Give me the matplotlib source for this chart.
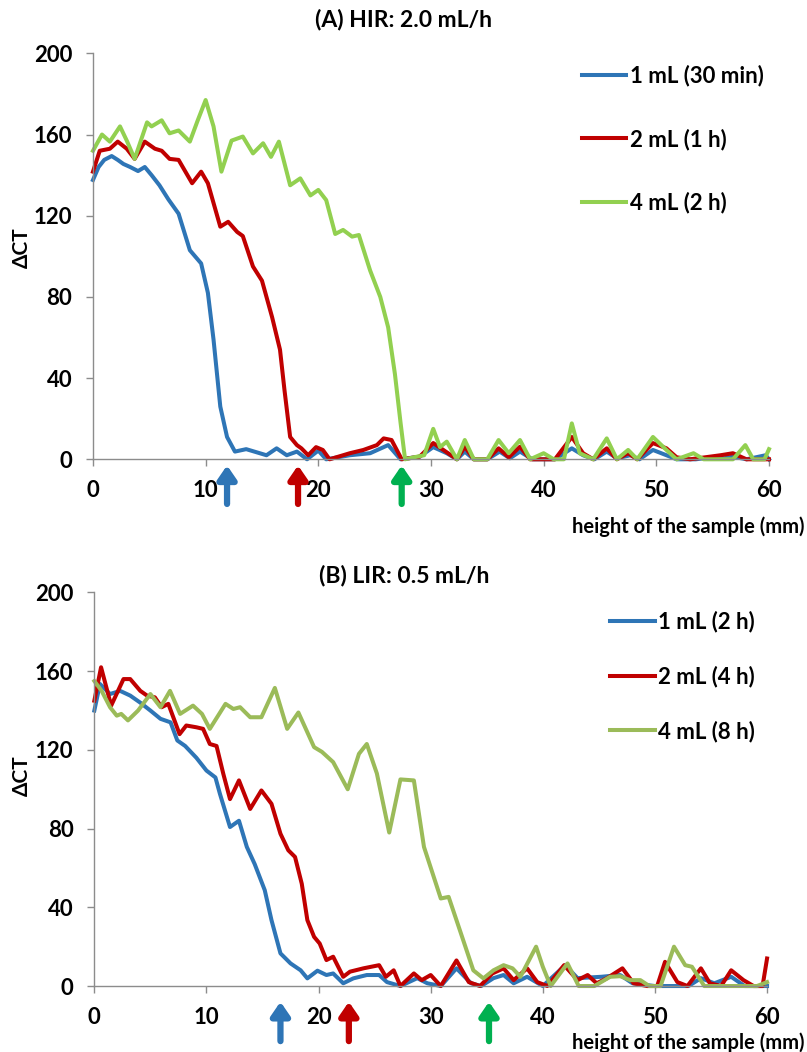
import numpy as np
from matplotlib import pyplot as plt, rcParams

rcParams['font.family'] = ['Lato', 'DejaVu Sans']
rcParams['font.weight'] = 'bold'

# (A) HIR: 2.0 mL/h
a_x_1ml = [0, 0.5, 1.0, 1.66, 2.2, 2.7, 3.3, 4.0, 4.6, 5.2, 5.9, 6.7, 7.6, 8.6, 9.6, 10.2, 10.7, 11.3, 11.9, 12.6,
           13.6, 14.8, 15.4, 16.3, 17.2, 18.1, 19.0, 20.0, 20.7, 22.8, 24.6, 26.2, 27.3, 29.0, 30.2, 31.4, 32.3, 33.0,
           33.8, 35.0, 36.1, 37.0, 37.9, 39.0, 41.0, 42.5, 43.5, 44.5, 45.6, 46.5, 47.7, 48.5, 49.7, 50.9, 51.8, 53.5,
           55.4, 56.0, 56.8, 58.0, 59.7, 60]
a_y_1ml = [137.6, 144, 147.5, 149.4, 147.5, 145.5, 144, 142, 144, 140, 135, 128, 121, 103, 96.5, 82, 59, 26, 11, 3.8,
           5, 3, 2, 5.4, 2, 3.8, 0, 4.3, 0, 2, 3, 7, 0, 1.3, 6, 3, 0, 3.8,
           0, 0, 3.8, 0.5, 3.8, 0, 0, 5.4, 2, 0, 3.8, 0.5, 2, 0, 4.6, 2, 0, 0,
           1.3, 0.5, 1.3, 0, 2, 0]

a_x_2ml = [0, 0.6, 1.5, 2.2, 3.0, 3.7, 4.6, 5.5, 6.1, 6.8, 7.6, 8.8, 9.6, 10.2, 11.3, 12.0, 12.8, 13.3, 14.2, 15.0,
           15.9, 16.6, 17.0, 17.5, 18.1, 18.5, 19.1, 19.8, 20.4, 21.0, 22.2, 22.8, 24.0, 25.2, 25.8, 26.5, 27.4, 29.0,
           30.2, 31.1, 32.3, 33.0, 33.8, 35.0, 36.0, 36.9, 37.9, 38.8, 41.0, 42.5, 43.5, 44.4, 45.6, 46.5, 47.5, 48.3,
           49.7, 50.9, 51.8, 53.0, 55.7, 56.8, 58.0, 60]
a_y_2ml = [141.7, 152, 153, 156.5, 153, 148, 156.5, 153, 152, 148, 147.5, 136, 141.7, 136, 114.6, 117, 112, 110, 95, 88,
           70, 54, 34, 11, 7, 5.4, 2, 6, 4.6, 0, 2, 3, 4.6, 7, 10.3, 9.5, 0, 1.3,
           8, 4.6, 0, 6.2, 0, 0, 5.4, 1, 6.2, 0, 0, 11, 3, 0, 5.4, 0, 3, 0,
           8, 5.4, 1, 0, 2, 3, 0, 0]

a_x_4ml = [0, 0.8, 1.5, 2.4, 3.0, 3.7, 4.8, 5.2, 6.1, 6.8, 7.6, 8.6, 9.3, 10.0, 10.7, 11.4, 12.3, 13.3, 14.2, 15.1,
           15.8, 16.5, 17.5, 18.4, 19.3, 20.0, 20.7, 21.5, 22.2, 23.0, 23.6, 24.6, 25.5, 26.2, 26.8, 27.3, 27.7, 28.5,
           29.4, 30.2, 30.8, 31.4, 32.3, 33.0, 33.8, 35.0, 36.0, 36.9, 37.9, 38.8, 40.0, 40.9, 41.8, 42.5, 43.2, 44.4,
           45.6, 46.5, 47.5, 48.3, 49.7, 50.9, 51.8, 53.3, 54.2, 56.8, 57.9, 58.6, 59.6, 60]
a_y_4ml = [152, 160, 156.5, 164, 157, 148, 166, 164, 167, 160.6, 162, 156.5, 167, 177, 164, 141.7, 157, 159, 150.7, 155.7,
           149, 156.5, 135, 138.4, 130, 132.7, 127.7, 111, 113, 109.7, 110.5, 93, 80, 65, 42, 18, 0, 1,
           2, 15, 6, 8.7, 0, 9.5, 0, 0, 9.5, 3, 9.5, 0, 3, 0, 0, 17.7, 3, 0,
           10.3, 0, 4.6, 0, 11, 4.6, 0, 3, 0, 0, 7, 0, 0, 5]

# (B) LIR: 0.5 mL/h
b_x_1ml = [0, 0.5, 1.4, 2.3, 3.2, 4.1, 5.0, 5.9, 6.8, 7.4, 8.1, 9.1, 10.0, 10.8, 11.2, 12.1, 12.9, 13.6, 14.3, 15.2,
           15.8, 16.6, 17.5, 18.4, 19.0, 19.9, 20.7, 21.3, 22.2, 23.1, 24.3, 25.4, 26.1, 27.3, 28.8, 29.7, 30.9, 32.3,
           33.6, 34.5, 35.6, 36.5, 37.4, 38.6, 40.0, 42.0, 43.1, 45.2, 46.9, 48.0, 50.0, 53.0, 54.1, 55.3, 56.8, 58.0,
           60]
b_y_1ml = [140, 153.5, 148.4, 150, 147.6, 144, 140, 135.8, 134, 124.8, 122, 116, 109.5, 106, 97.7, 80.8, 84, 70.7, 62, 48.7,
           33.5, 16.6, 11.5, 8, 3.9, 7.8, 5.6, 6.4, 1.4, 3.9, 5.6, 5.6, 2, 0, 4, 1.4, 0, 9,
           1.4, 0, 4, 5.6, 1.4, 4.7, 0, 10.6, 4, 4.7, 5.6, 1.4, 0, 0, 4, 1.4, 4.7, 0,
           0]

b_x_2ml = [0, 0.6, 1.5, 2.6, 3.2, 4.1, 4.7, 5.4, 6.0, 6.6, 7.6, 8.2, 9.1, 9.7, 10.3, 10.9, 11.5, 12.1, 12.9, 13.9,
           14.9, 15.8, 16.6, 17.3, 17.9, 18.5, 19.0, 19.6, 20.1, 20.7, 21.3, 22.2, 22.8, 24.0, 25.4, 26.0, 26.7, 27.3,
           28.5, 29.2, 30.0, 30.9, 32.3, 33.4, 34.4, 35.5, 36.5, 37.4, 38.6, 39.5, 40.4, 41.9, 43.1, 44.0, 44.8, 45.7,
           47.1, 48.1, 49.3, 50.2, 50.9, 52.0, 52.9, 54.1, 54.9, 55.9, 56.8, 57.9, 58.8, 59.6, 60]
b_y_2ml = [145, 162, 142.5, 156, 156, 150, 147.6, 146.7, 141.7, 143.4, 128, 132.4, 131.5, 130.7, 123, 122, 107.9, 95, 104.5, 90,
           99.4, 92.6, 77.4, 69, 65.6, 52, 33.5, 25, 21.6, 13.2, 14.9, 4.7, 7.3, 9, 10.6, 4.7, 8, 0,
           6.4, 3, 5.6, 0, 13, 2, 0, 6.4, 9, 3, 9, 2, 0, 10.6, 3, 5.6, 1.4, 3.9,
           9, 1.4, 0, 0, 12.3, 2, 0, 9, 1.4, 0, 8, 3, 0, 0, 14]

b_x_4ml = [0, 0.65, 1.4, 2.0, 2.4, 3.0, 3.9, 5.0, 5.9, 6.75, 7.65, 8.8, 9.6, 10.3, 11.7, 12.4, 13.0, 13.9, 14.9, 16.1,
           17.2, 18.2, 19.6, 20.3, 21.3, 22.6, 23.6, 24.3, 25.2, 26.3, 27.3, 28.5, 29.4, 30.9, 31.6, 32.6, 33.8, 34.7,
           35.6, 36.5, 37.3, 38.0, 39.4, 40.0, 40.7, 42.2, 43.2, 44.6, 46.0, 46.9, 47.8, 48.7, 49.5, 50.5, 51.7, 52.7,
           53.3, 54.4, 55.3, 59.1, 60]
b_y_4ml = [155, 150, 141.7, 137.4, 138.3, 135, 140, 148.4, 141.7, 150, 138.3, 142.5, 138.3, 130.7, 143.4, 140.8, 141.7, 136.6, 136.6, 151.5,
           130.7, 139, 121.4, 119, 113.8, 100, 118, 123, 108, 78, 105, 104.5, 70.7, 44.5, 45.3, 28.4, 8, 3.9,
           8, 10.6, 9, 4.7, 20, 9.8, 0, 11.5, 0, 0, 4.7, 5, 3, 3, 0, 0, 20, 10.6,
           9.8, 0, 0, 0, 2]

a_labels = ['1 mL (30 min)', '2 mL (1 h)', '4 mL (2 h)']
b_labels = ['1 mL (2 h)', '2 mL (4 h)', '4 mL (8 h)']
a_arrows = [11.9, 18.2, 27.4]   # front positions (mm)
b_arrows = [16.6, 22.7, 35.2]

blue, red = '#2E75B6', '#C00000'
a_green, b_green = '#92D050', '#9BBB59'
arrow_colors = [blue, red, '#00B050']

fig = plt.figure(figsize=(8.07, 10.52), dpi=100)
ax1 = fig.add_axes([0.1152, 0.5634, 0.8377, 0.3859])
ax2 = fig.add_axes([0.1169, 0.0627, 0.8336, 0.3741])


def style_axes(ax):
    ax.set_xlim(0, 60)
    ax.set_ylim(0, 200)
    ax.set_xticks(range(0, 61, 10))
    ax.set_yticks(range(0, 201, 40))
    for s in ['top', 'right']:
        ax.spines[s].set_visible(False)
    for s in ['left', 'bottom']:
        ax.spines[s].set_color('#8c8c8c')
        ax.spines[s].set_linewidth(1.0)
    ax.tick_params(length=5, width=1.0, color='#8c8c8c', labelsize=16, pad=10)


def draw_arrows(ax, xs, y_tip, y_tail):
    for xv, c in zip(xs, arrow_colors):
        ax.annotate('', xy=(xv, y_tip), xytext=(xv, y_tail), annotation_clip=False,
                    arrowprops=dict(arrowstyle='-|>,head_length=0.8,head_width=0.55', color=c, lw=4.5,
                                    shrinkA=0, shrinkB=0))


# 上图
style_axes(ax1)
ax1.plot(a_x_1ml, a_y_1ml, color=blue, lw=2.9, label=a_labels[0], clip_on=False, solid_joinstyle='round')
ax1.plot(a_x_2ml, a_y_2ml, color=red, lw=2.9, label=a_labels[1], clip_on=False, solid_joinstyle='round')
ax1.plot(a_x_4ml, a_y_4ml, color=a_green, lw=2.9, label=a_labels[2], clip_on=False, solid_joinstyle='round')
ax1.legend(loc='upper left', bbox_to_anchor=(0.723, 0.972), frameon=False, fontsize=16,
           handlelength=2.0, handletextpad=0.15, labelspacing=1.88, borderpad=0, borderaxespad=0)
draw_arrows(ax1, a_arrows, -3, -22)

# 下图
style_axes(ax2)
ax2.plot(b_x_1ml, b_y_1ml, color=blue, lw=2.9, label=b_labels[0], clip_on=False, solid_joinstyle='round')
ax2.plot(b_x_2ml, b_y_2ml, color=red, lw=2.9, label=b_labels[1], clip_on=False, solid_joinstyle='round')
ax2.plot(b_x_4ml, b_y_4ml, color=b_green, lw=2.9, label=b_labels[2], clip_on=False, solid_joinstyle='round')
ax2.legend(loc='upper left', bbox_to_anchor=(0.767, 0.953), frameon=False, fontsize=16,
           handlelength=2.0, handletextpad=0.15, labelspacing=1.48, borderpad=0, borderaxespad=0)
draw_arrows(ax2, b_arrows, -8, -28)

# 标题和坐标轴标签
fig.text(0.5006, 0.981, '(A) HIR: 2.0 mL/h', ha='center', va='center', fontsize=16.5)
fig.text(0.5006, 0.4534, '(B) LIR: 0.5 mL/h', ha='center', va='center', fontsize=16.5)
fig.text(0.9975, 0.499, 'height of the sample (mm)', ha='right', va='center', fontsize=14.5)
fig.text(0.9975, 0.0086, 'height of the sample (mm)', ha='right', va='center', fontsize=14.5)
fig.text(0.027, 0.765, 'ΔCT', rotation=90, ha='center', va='center', fontsize=15)
fig.text(0.027, 0.263, 'ΔCT', rotation=90, ha='center', va='center', fontsize=15)

plt.savefig('out.png', dpi=100)
